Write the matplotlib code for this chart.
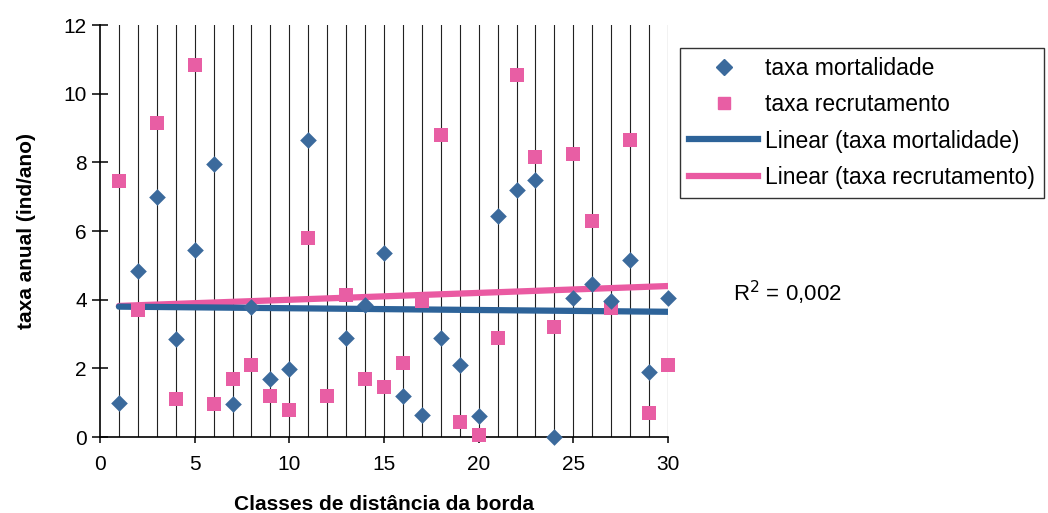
import matplotlib
matplotlib.use("Agg")
import matplotlib.pyplot as plt
from matplotlib.lines import Line2D

plt.rcParams['font.family'] = ['Liberation Sans', 'DejaVu Sans']

# classes de distância (1..30)
classes = list(range(1, 31))

# classe 12 sem ponto visível de mortalidade
taxa_mortalidade = [1.0, 4.85, 7.0, 2.85, 5.45, 7.95, 0.95, 3.8, 1.7, 1.97,
                    8.65, float("nan"), 2.9, 3.85, 5.35, 1.2, 0.65, 2.9, 2.1, 0.6,
                    6.45, 7.2, 7.5, 0.0, 4.05, 4.45, 3.95, 5.15, 1.9, 4.05]

taxa_recrutamento = [7.45, 3.7, 9.15, 1.1, 10.85, 0.95, 1.7, 2.1, 1.2, 0.8,
                     5.8, 1.2, 4.15, 1.7, 1.45, 2.15, 3.95, 8.8, 0.45, 0.05,
                     2.9, 10.55, 8.15, 3.2, 8.25, 6.3, 3.75, 8.65, 0.7, 2.1]

trend_x = [1, 30]
trend_mortalidade = [3.80, 3.65]
trend_recrutamento = [3.82, 4.40]

legend_labels = ["taxa mortalidade", "taxa recrutamento",
                 "Linear (taxa mortalidade)", "Linear (taxa recrutamento)"]
r2_text = "R$^2$ = 0,002"

azul = "#3b6a9c"
rosa = "#e85ea4"
azul_linha = "#2d6399"
rosa_linha = "#ea5aa2"

fig = plt.figure(figsize=(10.48, 5.13), dpi=100)
ax = fig.add_axes([0.0954, 0.148, 0.542, 0.803])

# linhas verticais de grade em cada classe
for c in classes:
    ax.axvline(c, color="#222222", lw=0.8, zorder=1)

ax.plot(trend_x, trend_recrutamento, color=rosa_linha, lw=4.5, zorder=3,
        solid_capstyle="round")
ax.plot(trend_x, trend_mortalidade, color=azul_linha, lw=4.5, zorder=3,
        solid_capstyle="round")

ax.scatter(classes, taxa_recrutamento, marker="s", s=115, color=rosa,
           zorder=4, linewidths=0, clip_on=False)
ax.scatter(classes, taxa_mortalidade, marker="D", s=72, color=azul,
           zorder=5, linewidths=0, clip_on=False)

ax.set_xlim(0, 30)
ax.set_ylim(0, 12)
ax.set_xticks(range(0, 31, 5))
ax.set_yticks(range(0, 13, 2))
ax.tick_params(axis="y", direction="inout", length=11, width=1.1,
               labelsize=15, pad=4)
ax.tick_params(axis="x", direction="out", length=4, width=1.1,
               labelsize=15, pad=9)
ax.spines["top"].set_visible(False)
ax.spines["right"].set_visible(False)
ax.spines["left"].set_linewidth(1.2)
ax.spines["bottom"].set_linewidth(1.2)

ax.set_ylabel("taxa anual (ind/ano)", fontsize=15, fontweight="bold",
              labelpad=20)
ax.set_xlabel("Classes de distância da borda", fontsize=15,
              fontweight="bold", labelpad=15)

handles = [
    Line2D([], [], marker="D", ls="", color=azul, markersize=8),
    Line2D([], [], marker="s", ls="", color=rosa, markersize=9),
    Line2D([], [], color=azul_linha, lw=4.5),
    Line2D([], [], color=rosa_linha, lw=4.5),
]
leg = fig.legend(handles, legend_labels, loc="upper left",
                 bbox_to_anchor=(0.649, 0.906), fontsize=16.5, frameon=True,
                 fancybox=False, edgecolor="black", handlelength=3.0,
                 borderpad=0.4, labelspacing=0.57, handletextpad=0.3,
                 borderaxespad=0)
leg.get_frame().set_linewidth(1.0)

fig.text(0.699, 0.412, r2_text, fontsize=16)

fig.savefig("out.png", dpi=100)
